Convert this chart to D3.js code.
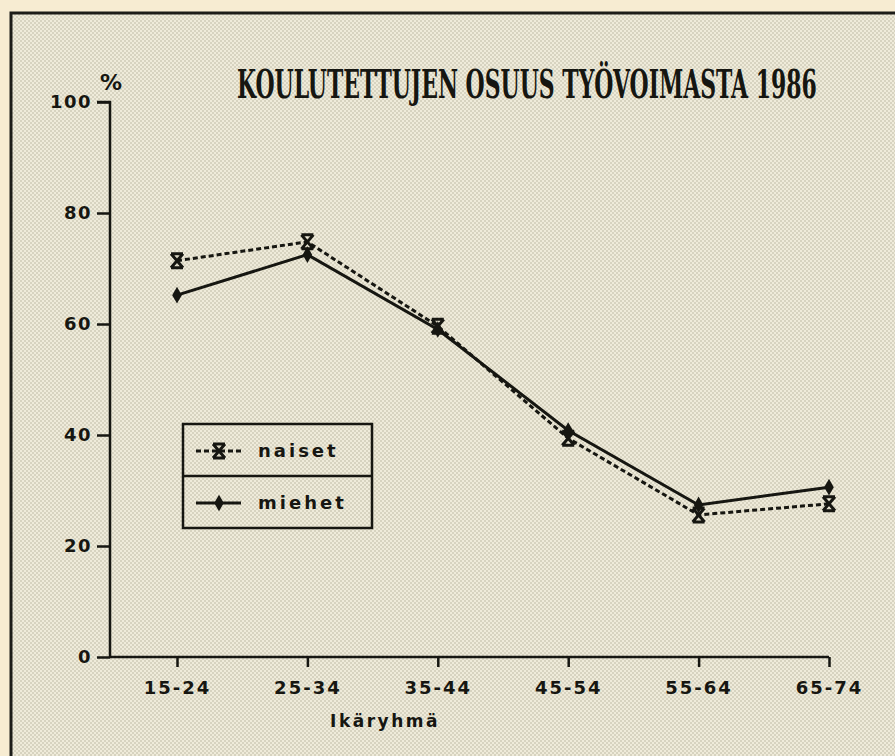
<!DOCTYPE html>
<html>
<head>
<meta charset="utf-8">
<script src="https://cdn.jsdelivr.net/npm/d3@7"></script>
<style>
  body { margin: 0; background: #f7ecd2; }
  svg { display: block; }
</style>
</head>
<body>
<div id="chart"></div>
<script>
const ageGroups = ['15-24', '25-34', '35-44', '45-54', '55-64', '65-74'];
const naiset = [71.4, 74.8, 59.6, 39.4, 25.6, 27.6];
const miehet = [65.2, 72.5, 59.0, 40.8, 27.4, 30.6];
const yTicks = [0, 20, 40, 60, 80, 100];

const width = 895;
const height = 756;

const svg = d3.select('#chart').append('svg')
  .attr('width', width)
  .attr('height', height);

// halftone look of the scanned paper
const defs = svg.append('defs');
const pat = defs.append('pattern')
  .attr('id', 'dots')
  .attr('width', 4).attr('height', 4)
  .attr('patternUnits', 'userSpaceOnUse');
pat.append('rect').attr('width', 4).attr('height', 4).attr('fill', '#efebda');
pat.append('circle').attr('cx', 1).attr('cy', 1).attr('r', 0.75).attr('fill', '#b3af9a');
pat.append('circle').attr('cx', 3).attr('cy', 3).attr('r', 0.75).attr('fill', '#b3af9a');

svg.append('rect').attr('width', width).attr('height', height).attr('fill', '#f7ecd2');
svg.append('rect')
  .attr('x', 11).attr('y', 13)
  .attr('width', width).attr('height', height)
  .attr('fill', 'url(#dots)')
  .attr('stroke', '#1c1c18')
  .attr('stroke-width', 3);

const x = d3.scalePoint().domain(ageGroups).range([177, 829]);
const y = d3.scaleLinear().domain([0, 100]).range([657, 102]);

const ink = '#161611';
const tickFont = '"DejaVu Sans", sans-serif';

// title: size it so its natural width is ~580px, then stretch it a bit vertically
const title = svg.append('text')
  .attr('font-family', '"DejaVu Serif Condensed", "DejaVu Serif", serif')
  .attr('font-weight', 'bold')
  .attr('font-size', 30)
  .attr('fill', ink)
  .text('KOULUTETTUJEN OSUUS TYÖVOIMASTA 1986');
const natural = title.node().getComputedTextLength();
const fs = 30 * 580 / natural;
const sy = 29 / (0.73 * fs);
title.attr('font-size', fs)
  .attr('transform', `translate(237,98) scale(1,${sy})`);

svg.append('text')
  .attr('x', 111).attr('y', 90)
  .attr('text-anchor', 'middle')
  .attr('font-family', tickFont)
  .attr('font-weight', 'bold')
  .attr('font-size', 22)
  .attr('fill', ink)
  .text('%');

// y axis
const yAxis = d3.axisLeft(y).tickValues(yTicks).tickSize(13).tickPadding(5);
const gy = svg.append('g').attr('transform', 'translate(110,0)').call(yAxis);
gy.select('.domain').attr('d', `M-13,${y(100)}H0V${y(0)}`).attr('stroke', ink).attr('stroke-width', 2.5);
gy.selectAll('.tick line').attr('stroke', ink).attr('stroke-width', 2.5);
gy.selectAll('.tick text')
  .attr('font-family', tickFont)
  .attr('font-weight', 'bold')
  .attr('font-size', 18)
  .attr('fill', ink)
  .attr('letter-spacing', 1.5);

// x axis
const xAxis = d3.axisBottom(x).tickSize(10).tickPadding(14);
const gx = svg.append('g').attr('transform', `translate(0,${y(0)})`).call(xAxis);
gx.select('.domain').attr('d', `M110,0H${x('65-74')}`).attr('stroke', ink).attr('stroke-width', 2.5);
gx.selectAll('.tick line').attr('stroke', ink).attr('stroke-width', 2.5);
gx.selectAll('.tick text')
  .attr('font-family', tickFont)
  .attr('font-weight', 'bold')
  .attr('font-size', 18)
  .attr('fill', ink)
  .attr('letter-spacing', 2);

svg.append('text')
  .attr('x', 385).attr('y', 727)
  .attr('text-anchor', 'middle')
  .attr('font-family', tickFont)
  .attr('font-weight', 'bold')
  .attr('font-size', 17)
  .attr('letter-spacing', 2.5)
  .attr('fill', ink)
  .text('Ikäryhmä');

// lines
const line = d3.line().x((d, i) => x(ageGroups[i])).y(d => y(d));

svg.append('path')
  .datum(miehet)
  .attr('d', line)
  .attr('fill', 'none')
  .attr('stroke', ink)
  .attr('stroke-width', 3);

svg.append('path')
  .datum(naiset)
  .attr('d', line)
  .attr('fill', 'none')
  .attr('stroke', ink)
  .attr('stroke-width', 3)
  .attr('stroke-dasharray', '5,3');

const diamond = d3.symbol().type(d3.symbolDiamond).size(80);

function drawDiamond(sel) {
  sel.append('path').attr('d', diamond).attr('fill', ink);
}
function drawCross(sel) {
  sel.append('path').attr('d', 'M-6,-7L6,7M6,-7L-6,7M-6,-7H6M-6,7H6')
    .attr('stroke', ink).attr('stroke-width', 3).attr('fill', 'none');
}

svg.append('g').selectAll('g')
  .data(miehet)
  .join('g')
  .attr('transform', (d, i) => `translate(${x(ageGroups[i])},${y(d)})`)
  .call(drawDiamond);

svg.append('g').selectAll('g')
  .data(naiset)
  .join('g')
  .attr('transform', (d, i) => `translate(${x(ageGroups[i])},${y(d)})`)
  .call(drawCross);

// legend
const legend = svg.append('g').attr('transform', 'translate(183,424)');
legend.append('rect')
  .attr('width', 189).attr('height', 104)
  .attr('fill', 'none')
  .attr('stroke', ink)
  .attr('stroke-width', 2.5);
legend.append('line')
  .attr('x1', 0).attr('x2', 189).attr('y1', 52).attr('y2', 52)
  .attr('stroke', ink).attr('stroke-width', 2.5);

legend.append('line')
  .attr('x1', 13).attr('x2', 58).attr('y1', 27).attr('y2', 27)
  .attr('stroke', ink).attr('stroke-width', 3).attr('stroke-dasharray', '5,3');
legend.append('g').attr('transform', 'translate(36,27)').call(drawCross);
legend.append('line')
  .attr('x1', 13).attr('x2', 58).attr('y1', 79).attr('y2', 79)
  .attr('stroke', ink).attr('stroke-width', 3);
legend.append('g').attr('transform', 'translate(36,79)').call(drawDiamond);

legend.selectAll('text.lbl')
  .data(['naiset', 'miehet'])
  .join('text')
  .attr('class', 'lbl')
  .attr('x', 75)
  .attr('y', (d, i) => 33 + i * 52)
  .attr('font-family', tickFont)
  .attr('font-weight', 'bold')
  .attr('font-size', 18)
  .attr('letter-spacing', 3)
  .attr('fill', ink)
  .text(d => d);
</script>
</body>
</html>
